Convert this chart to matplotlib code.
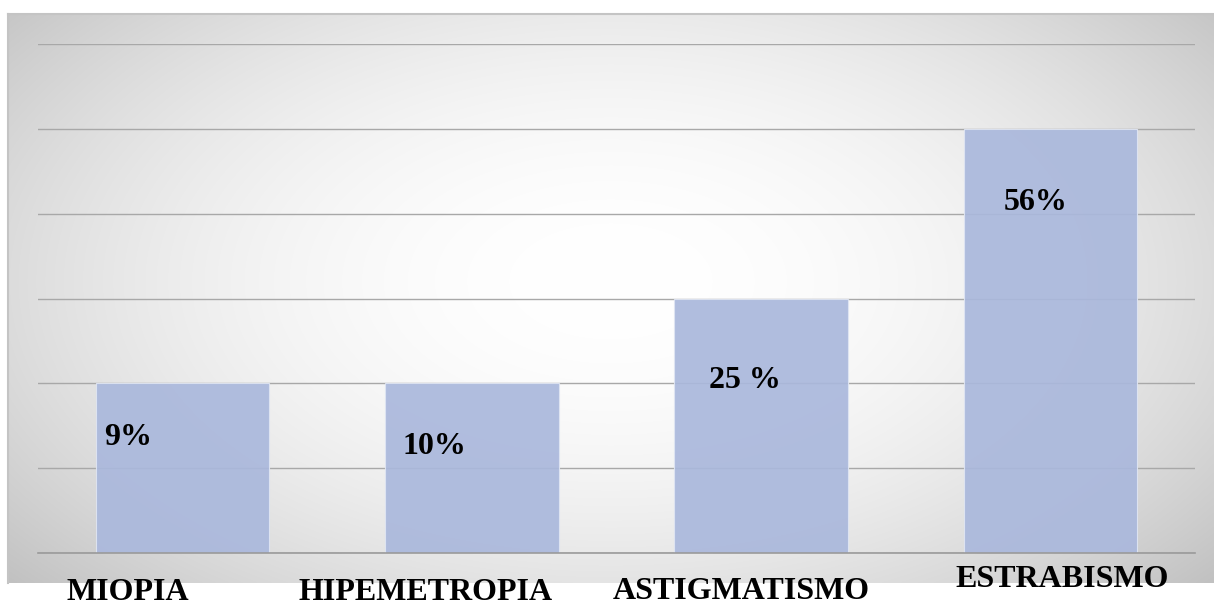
import numpy as np
import matplotlib
matplotlib.use("Agg")
import matplotlib.pyplot as plt

# ---------- data -------------------------------------------------------
categories = ["MIOPIA", "HIPEMETROPIA", "ASTIGMATISMO", "ESTRABISMO"]
bar_heights = [2, 2, 3, 5]
value_labels = ["9%", "10%", "25 %", "56%"]

# manual text-box placement (data units, relative to bar index)
value_dx = [-0.27, -0.24, -0.18, -0.16]
value_y = [1.36, 1.25, 2.03, 4.13]
cat_dx = [-0.19, -0.16, -0.07, 0.04]
cat_y = [-0.46, -0.46, -0.45, -0.31]

W, H = 1214, 605
fig = plt.figure(figsize=(W / 100, H / 100), dpi=100)
fig.patch.set_facecolor("white")

# ---------- chart-area background: radial grey gradient ----------------
x0, x1, y0, y1 = 8, 1214, 14, 583
bg = fig.add_axes([x0 / W, (H - y1) / H, (x1 - x0) / W, (y1 - y0) / H])
gx, gy = np.meshgrid(np.linspace(0, 1, 600), np.linspace(0, 1, 300))
r = np.sqrt(((gx - 0.5) / 0.66) ** 2 + ((gy - 0.47) / 0.8) ** 2)
r = np.clip(r, 0, 1)
shade = 1.0 - 0.24 * r ** 2.0
bg.imshow(np.dstack([shade] * 3), aspect="auto", extent=(0, 1, 0, 1),
          interpolation="bilinear")
bg.set_xlim(0, 1)
bg.set_ylim(0, 1)
for side in ("right", "bottom"):
    bg.spines[side].set_visible(False)
for side in ("left", "top"):
    bg.spines[side].set_color("#c4c4c4")
    bg.spines[side].set_linewidth(1.5)
bg.set_xticks([])
bg.set_yticks([])

# ---------- plot ------------------------------------------------------
px0, px1, py_top, py_bot = 38, 1195, 44, 553
ax = fig.add_axes([px0 / W, (H - py_bot) / H, (px1 - px0) / W,
                   (py_bot - py_top) / H])
ax.set_facecolor("none")
xpos = np.arange(len(categories))
ax.bar(xpos, bar_heights, width=0.6, color="#aab8dc", alpha=0.92,
       edgecolor="#dfe5f3", linewidth=0.8, zorder=2)
ax.set_xlim(-0.5, len(categories) - 0.5)
ax.set_ylim(0, 6)
ax.set_yticks(np.arange(0, 7))
ax.yaxis.grid(True, color="#a8a8a8", lw=1.0, zorder=1)
ax.axhline(0, color="#9a9a9a", lw=1.2, zorder=3, clip_on=False)
ax.set_axisbelow(True)
for s in ax.spines.values():
    s.set_visible(False)
ax.tick_params(left=False, bottom=False, labelleft=False, labelbottom=False)

font = dict(family="Liberation Serif", weight="bold", fontsize=23,
            color="black")
for i, lab in enumerate(value_labels):
    ax.text(xpos[i] + value_dx[i], value_y[i], lab, ha="left", va="center",
            zorder=3, **font)
for i, cat in enumerate(categories):
    ax.text(xpos[i] + cat_dx[i], cat_y[i], cat, ha="center", va="center",
            clip_on=False, zorder=3, **font)

fig.savefig("out.png", dpi=100)
